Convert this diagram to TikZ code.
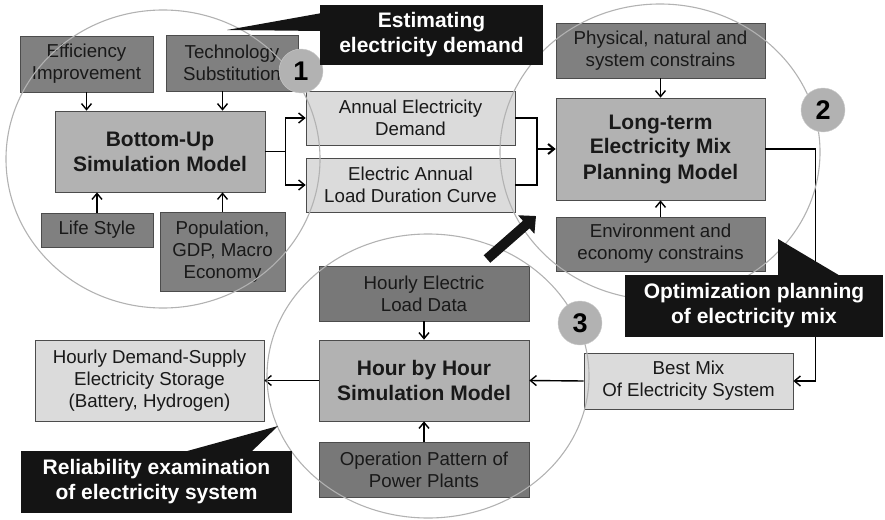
\documentclass[tikz,border=0pt]{standalone}
\usepackage{fontspec}
\setmainfont{Liberation Sans}
\usetikzlibrary{arrows.meta, calc}

\begin{document}
\begin{tikzpicture}[x=1pt, y=-1pt,
    box/.style={draw=black!70, line width=0.7pt, inner sep=2pt, align=center, text=black!90, font=\fontsize{18.7}{22}\selectfont},
    inbox/.style={box, fill=black!50},
    outbox/.style={box, fill=black!14},
    model/.style={box, fill=black!30, font=\bfseries\fontsize{21}{25}\selectfont},
    callout/.style={fill=black!92, text=white, align=center, inner sep=2pt, font=\bfseries\fontsize{21}{25}\selectfont},
    badge/.style={circle, fill=black!30, draw=black!20, minimum size=44pt, inner sep=0pt, font=\bfseries\fontsize{27}{30}\selectfont},
    ring/.style={draw=black!30, line width=1.1pt},
    arrow/.style={-{Straight Barb[length=6pt, width=10pt]}, line width=1.4pt},
    bigarrow/.style={-{Triangle[length=13pt, width=24pt]}, line width=10pt, black!92}
]
    \useasboundingbox (0,0) rectangle (885,519);

    % demand side
    \node[inbox, minimum width=133pt, minimum height=56pt] at (86.5,64) (eff) {Efficiency\\Improvement};
    \node[inbox, minimum width=132pt, minimum height=56pt] at (232,63) (tech) {Technology\\Substitution};
    \node[model, minimum width=210pt, minimum height=81pt] at (160,151.5) (bu) {Bottom-Up\\Simulation Model};
    \node[inbox, minimum width=112pt, minimum height=34pt] at (97,230) (life) {Life Style};
    \node[inbox, minimum width=125pt, minimum height=79pt] at (222.5,251.5) (pop) {Population,\\GDP, Macro\\Economy};
    \node[outbox, minimum width=209pt, minimum height=54pt] at (410.5,118) (aed) {Annual Electricity\\Demand};
    \node[outbox, minimum width=209pt, minimum height=54pt] at (410.5,185) (ldc) {Electric Annual\\Load Duration Curve};

    % mix planning
    \node[inbox, minimum width=209pt, minimum height=55pt] at (660.5,50.5) (phys) {Physical, natural and\\system constrains};
    \node[model, minimum width=209pt, minimum height=102pt] at (660.5,149) (ltm) {Long-term\\Electricity Mix\\Planning Model};
    \node[inbox, minimum width=209pt, minimum height=54pt] at (660.5,244) (env) {Environment and\\economy constrains};
    \node[outbox, minimum width=209pt, minimum height=56pt] at (688.5,381) (best) {Best Mix\\Of Electricity System};

    % hourly simulation
    \node[inbox, fill=black!53, minimum width=210pt, minimum height=55pt] at (424,293.5) (hld) {Hourly Electric\\Load Data};
    \node[model, minimum width=210pt, minimum height=81pt] at (424,380.5) (hbh) {Hour by Hour\\Simulation Model};
    \node[inbox, fill=black!53, minimum width=210pt, minimum height=55pt] at (424,469.5) (opp) {Operation Pattern of\\Power Plants};
    \node[outbox, minimum width=229pt, minimum height=81pt] at (149.5,380.5) (hds) {Hourly Demand-Supply\\Electricity Storage\\(Battery, Hydrogen)};

    \draw[arrow] (eff.south) -- (eff.south |- bu.north);
    \draw[arrow] (tech.south -| pop.north) -- (pop.north |- bu.north);
    \draw[arrow] (life.north) -- (life.north |- bu.south);
    \draw[arrow] (pop.north) -- (pop.north |- bu.south);
    \draw[arrow] (bu.east) -- ++(20,0) |- (aed.west);
    \draw[arrow] (bu.east) -- ++(20,0) |- (ldc.west);
    \coordinate (join) at (537,149);
    \draw[line width=1.4pt] (aed.east) -| (join) |- (ldc.east);
    \draw[arrow, line width=2pt] (join) -- (ltm.west);
    \draw[arrow] (phys.south) -- (ltm.north);
    \draw[arrow] (env.north) -- (ltm.south);
    \draw[arrow] (ltm.east) -- ++(50,0) |- (best.east);
    \draw[arrow] (best.west) -- (hbh.east);
    \draw[arrow] (hbh.west) -- (hds.east);
    \draw[arrow] (hld.south) -- (hbh.north);
    \draw[arrow] (opp.north) -- (hbh.south);

    \draw[ring] (163,159) ellipse [x radius=157pt, y radius=149pt];
    \draw[ring] (660,152) ellipse [x radius=160pt, y radius=148pt];
    \draw[ring] (428,376) ellipse [x radius=161pt, y radius=142pt];

    \node[badge] at (301,71) (one) {1};
    \node[badge] at (823,110) (two) {2};
    \node[badge] at (580,323) (three) {3};

    \fill[black!92] (227,30) -- (322,13) -- (322,31) -- cycle;
    \node[callout, minimum width=223pt, minimum height=60pt] at (431.5,35) (est) {Estimating\\electricity demand};
    \fill[black!92] (778,239) -- (778,277) -- (842,277) -- cycle;
    \node[callout, minimum width=258pt, minimum height=62pt] at (754,306) (opt) {Optimization planning\\of electricity mix};
    \fill[black!92] (180,453) -- (278,426) -- (250,453) -- cycle;
    \node[callout, minimum width=271pt, minimum height=62pt] at (156.5,482) (rel) {Reliability examination\\of electricity system};

    \coordinate (bigtail) at (487,259);
    \coordinate (bigtip) at (536,216);
    \draw[bigarrow] (bigtail) -- (bigtip);
\end{tikzpicture}
\end{document}
